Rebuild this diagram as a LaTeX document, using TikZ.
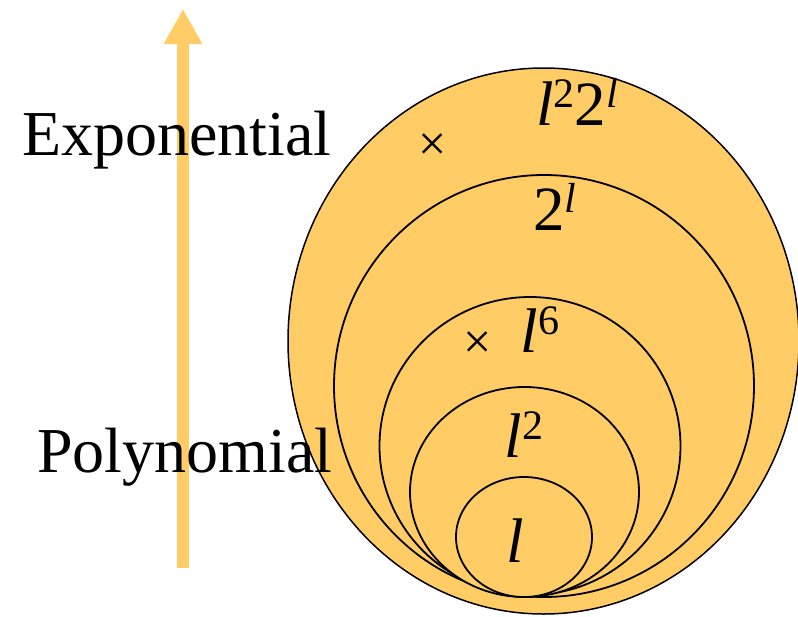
\documentclass[tikz,border=0pt]{standalone}
\usepackage{fontspec}
\setmainfont{Liberation Serif}
\usetikzlibrary{arrows.meta}
\definecolor{gold}{RGB}{255,204,102}
\newcommand{\sups}[1]{\raisebox{18pt}{\fontsize{42}{42}\selectfont #1}}
\tikzset{
  setline/.style={draw=black, line width=1.8pt, fill=gold},
  bigtext/.style={font=\fontsize{64}{70}\selectfont, inner sep=0pt, anchor=base west},
  setlabel/.style={font=\fontsize{63}{70}\selectfont, inner sep=0pt, anchor=base},
  cross/.style={font=\fontsize{50}{50}\selectfont, inner sep=0pt},
}

\begin{document}
\begin{tikzpicture}[x=1pt,y=-1pt]
  \useasboundingbox (0,0) rectangle (798,616);

  % Centres of the nested sets
  \coordinate (E) at (543.5,341);
  \coordinate (T) at (544,386);
  \coordinate (S) at (530,446);
  \coordinate (Q) at (524.5,492);
  \coordinate (L) at (524,537);

  % Growth arrow
  \coordinate (foot) at (183,568);
  \coordinate (tip) at (183,9);
  \draw[gold, line width=12pt, -{Triangle[width=36pt,length=35pt]}] (foot) -- (tip);

  % Nested sets
  \draw[setline, line width=1.5pt] (E) ellipse [x radius=255.5pt, y radius=273pt];
  \draw[setline] (T) ellipse [x radius=210pt, y radius=211pt];
  \draw[setline] (S) ellipse [x radius=150.5pt, y radius=149pt];
  \draw[setline] (Q) ellipse [x radius=114.5pt, y radius=105pt];
  \draw[setline] (L) ellipse [x radius=68pt, y radius=60pt];

  % Side labels
  \node[bigtext] (expo) at (22,155) {Exponential};
  \node[bigtext] (poly) at (37,472) {Polynomial};

  % Set labels
  \node[setlabel] (l22l) at (577,125) {\textit{l}\sups{2}2\sups{\textit{l}}};
  \node[setlabel] (twol) at (555,230) {2\sups{\textit{l}}};
  \node[setlabel] (lsix) at (540,352) {\textit{l}\sups{6}};
  \node[setlabel] (ltwo) at (524,457) {\textit{l}\sups{2}};
  \node[setlabel] (lone) at (515,562) {\textit{l}};

  % Marks
  \node[cross] (xa) at (433,147) {×};
  \node[cross] (xb) at (478,345) {×};
\end{tikzpicture}
\end{document}
